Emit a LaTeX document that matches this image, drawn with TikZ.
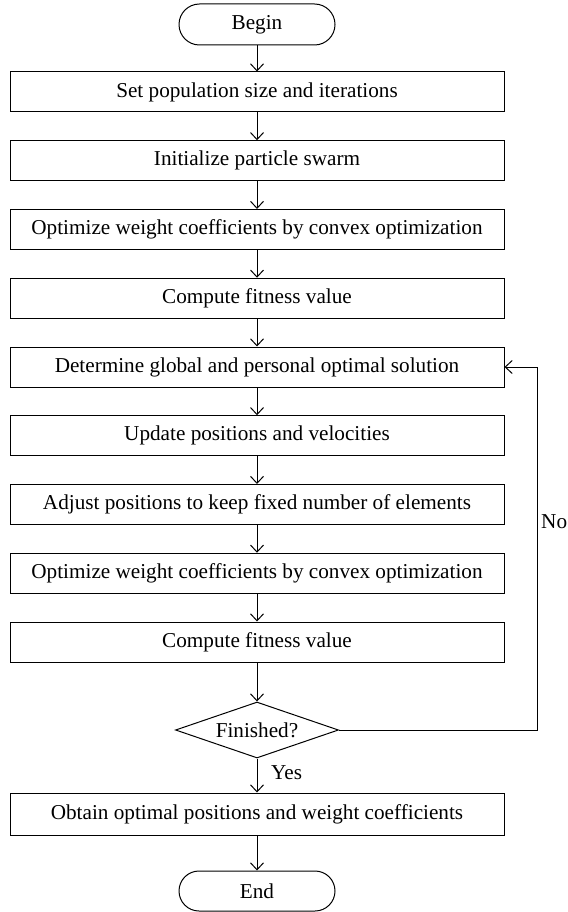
\documentclass[tikz,border=0pt]{standalone}
\usepackage{fontspec}
\setmainfont{Liberation Serif}
\usetikzlibrary{shapes.misc,shapes.geometric,arrows.meta}
\begin{document}
\begin{tikzpicture}[x=1pt,y=-1pt,
  every node/.style={font=\fontsize{21.2}{25}\selectfont},
  box/.style={draw, line width=1pt, minimum width=494pt, minimum height=40pt, inner sep=0pt},
  term/.style={draw, line width=1pt, rounded rectangle, minimum width=156pt, minimum height=41pt, inner sep=0pt},
  dec/.style={draw, line width=1pt, diamond, minimum width=163pt, minimum height=56pt, inner sep=0pt, aspect=2.9},
  arr/.style={line width=1pt, -{Straight Barb[length=7pt,width=13pt]}},
  lbl/.style={inner sep=0pt}
]
\useasboundingbox (0,0) rectangle (567,912);
\node[term] (begin) at (257,24.5) {Begin};
\node[box] (b1) at (257,92) {Set population size and iterations};
\node[box] (b2) at (257,160.75) {Initialize particle swarm};
\node[box] (b3) at (257,229.5) {Optimize weight coefficients by convex optimization};
\node[box] (b4) at (257,298.25) {Compute fitness value};
\node[box] (b5) at (257,367) {Determine global and personal optimal solution};
\node[box] (b6) at (257,435.75) {Update positions and velocities};
\node[box] (b7) at (257,504.5) {Adjust positions to keep fixed number of elements};
\node[box] (b8) at (257,573.25) {Optimize weight coefficients by convex optimization};
\node[box] (b9) at (257,642) {Compute fitness value};
\node[dec] (fin) at (257,730) {Finished?};
\node[box, minimum height=42pt] (obt) at (257,814) {Obtain optimal positions and weight coefficients};
\node[term, minimum height=40pt] (end) at (257,891) {End};
\coordinate (c1) at (537,730);
\coordinate (c2) at (537,367);
\draw[arr] (begin.south) -- (b1.north);
\draw[arr] (b1.south) -- (b2.north);
\draw[arr] (b2.south) -- (b3.north);
\draw[arr] (b3.south) -- (b4.north);
\draw[arr] (b4.south) -- (b5.north);
\draw[arr] (b5.south) -- (b6.north);
\draw[arr] (b6.south) -- (b7.north);
\draw[arr] (b7.south) -- (b8.north);
\draw[arr] (b8.south) -- (b9.north);
\draw[arr] (b9.south) -- (fin.north);
\draw[arr] (fin.south) -- (obt.north);
\draw[arr] (obt.south) -- (end.north);
\draw[arr] (fin.east) -- (c1) -- (c2) -- (b5.east);
\node[lbl, anchor=west] (no) at (541,522) {No};
\node[lbl, anchor=west] (yes) at (271,773) {Yes};
\end{tikzpicture}
\end{document}
